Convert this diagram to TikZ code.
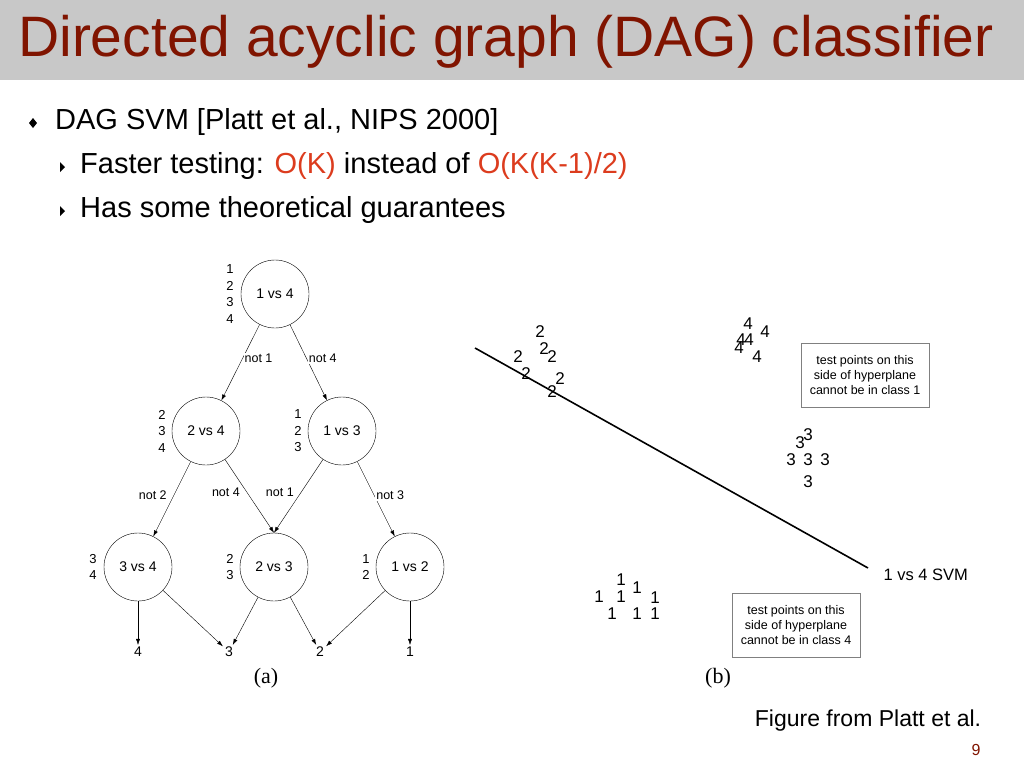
\documentclass[tikz,border=0pt]{standalone}
\usepackage{fontspec}
\setmainfont{Liberation Sans}
\newfontfamily\serifcap{Liberation Serif}
\usetikzlibrary{arrows.meta}
\definecolor{titlered}{RGB}{128,20,0}
\definecolor{hilite}{RGB}{220,60,30}
\definecolor{barcol}{RGB}{200,200,200}
\begin{document}
\begin{tikzpicture}[
    x = 1pt, y = -1pt,
    svm/.style = {draw, circle, minimum size = 68pt, inner sep = 0pt, font = \fontsize{14}{16}\selectfont},
    classes/.style = {font = \fontsize{13}{16.5}\selectfont, align = center, inner sep = 0pt},
    edge/.style = {-{Latex[length=6pt,width=4pt]}, thin},
    edgelbl/.style = {font = \fontsize{12.5}{14}\selectfont, fill = white, inner sep = 1pt},
    digit/.style = {font = \fontsize{17}{17}\selectfont, inner sep = 0pt},
    note/.style = {draw, gray, text = black, align = center, font = \fontsize{12.5}{15}\selectfont, minimum width = 128pt, minimum height = 64pt},
    bullet/.style = {anchor = west, font = \fontsize{29}{34}\selectfont}]

\useasboundingbox (0,0) rectangle (1024,768);
\fill[barcol] (0,0) rectangle (1024,80);
\node[titlered, anchor = west, inner sep = 0pt, font = \fontsize{57}{66}\selectfont] (title) at (18,42) {Directed acyclic graph (DAG) classifier};

% bullets
\fill (33,118) -- (37,123) -- (33,128) -- (29,123) -- cycle;
\node[bullet, inner sep = 0pt] (t0) at (55,122) {DAG SVM [Platt et al., NIPS 2000]};
\fill (60,162) -- (65,167) -- (60,172) -- cycle;
\node[bullet, inner sep = 0pt] (t1) at (80,166) {Faster testing: \textcolor{hilite}{O(K)} instead of \textcolor{hilite}{O(K(K-1)/2)}};
\fill (60,206) -- (65,211) -- (60,216) -- cycle;
\node[bullet, inner sep = 0pt] (t2) at (80,210) {Has some theoretical guarantees};

% (a) DAG
\node[svm] (n14) at (275,294) {1 vs 4};
\node[svm] (n24) at (206,431) {2 vs 4};
\node[svm] (n13) at (342,431) {1 vs 3};
\node[svm] (n34) at (138,567) {3 vs 4};
\node[svm] (n23) at (274,567) {2 vs 3};
\node[svm] (n12) at (410,567) {1 vs 2};
\node[classes] (c14) at (230,294) {1\\2\\3\\4};
\node[classes] (c24) at (162,431) {2\\3\\4};
\node[classes] (c13) at (298,431) {1\\2\\3};
\node[classes] (c34) at (93,567) {3\\4};
\node[classes] (c23) at (230,567) {2\\3};
\node[classes] (c12) at (366,567) {1\\2};
\foreach \name/\x/\lbl in {o4/138/4, o3/229/3, o2/320/2, o1/410/1}
  \node[font = \fontsize{14}{14}\selectfont, inner sep = 2pt] (\name) at (\x,652) {\lbl};

\draw[edge] (n14) -- node[edgelbl, pos = 0.45, right = 1pt] {not 1} (n24);
\draw[edge] (n14) -- node[edgelbl, pos = 0.45, right = 1pt] {not 4} (n13);
\draw[edge] (n24) -- node[edgelbl, pos = 0.45, left = 6pt] {not 2} (n34);
\draw[edge] (n24) -- node[edgelbl, pos = 0.45, left = 6pt] {not 4} (n23.north);
\draw[edge] (n13) -- node[edgelbl, pos = 0.45, left = 6pt] {not 1} (n23.north);
\draw[edge] (n13) -- node[edgelbl, pos = 0.45, right = 1pt] {not 3} (n12);
\draw[edge] (n34) -- (o4);
\draw[edge] (n34) -- (o3);
\draw[edge] (n23) -- (o3);
\draw[edge] (n23) -- (o2);
\draw[edge] (n12) -- (o2);
\draw[edge] (n12) -- (o1);
\node[font = \serifcap\fontsize{22}{22}\selectfont] (capa) at (266,678) {(a)};

% (b) hyperplane
\coordinate (h0) at (475,348);
\coordinate (h1) at (868,568);
\draw[line width = 1.6pt] (h0) -- (h1);
\node[anchor = west, font = \fontsize{16.5}{16.5}\selectfont] (svmlbl) at (880,575) {1 vs 4 SVM};
\foreach \x/\y/\d in {540/332/2, 544/349/2, 552/357/2, 518/357/2, 526/374/2, 560/379/2, 552/392/2,
    748/324/4, 765/332/4, 741/340/4, 749/340/4, 739/348/4, 757/357/4,
    808/435/3, 800/443/3, 791/460/3, 808/460/3, 825/460/3, 808/482/3,
    621/580/1, 637/588/1, 599/597/1, 621/597/1, 655/598/1, 612/614/1, 637/614/1, 655/614/1}
  \node[digit] at (\x,\y) {\d};
\node[note] (note1) at (865,375) {test points on this\\side of hyperplane\\cannot be in class 1};
\node[note] (note4) at (796,625) {test points on this\\side of hyperplane\\cannot be in class 4};
\node[font = \serifcap\fontsize{22}{22}\selectfont] (capb) at (718,678) {(b)};

\node[font = \fontsize{23}{23}\selectfont] (src) at (868,721) {Figure from Platt et al.};
\node[titlered, font = \fontsize{16}{16}\selectfont] (page) at (976,750) {9};
\end{tikzpicture}
\end{document}
